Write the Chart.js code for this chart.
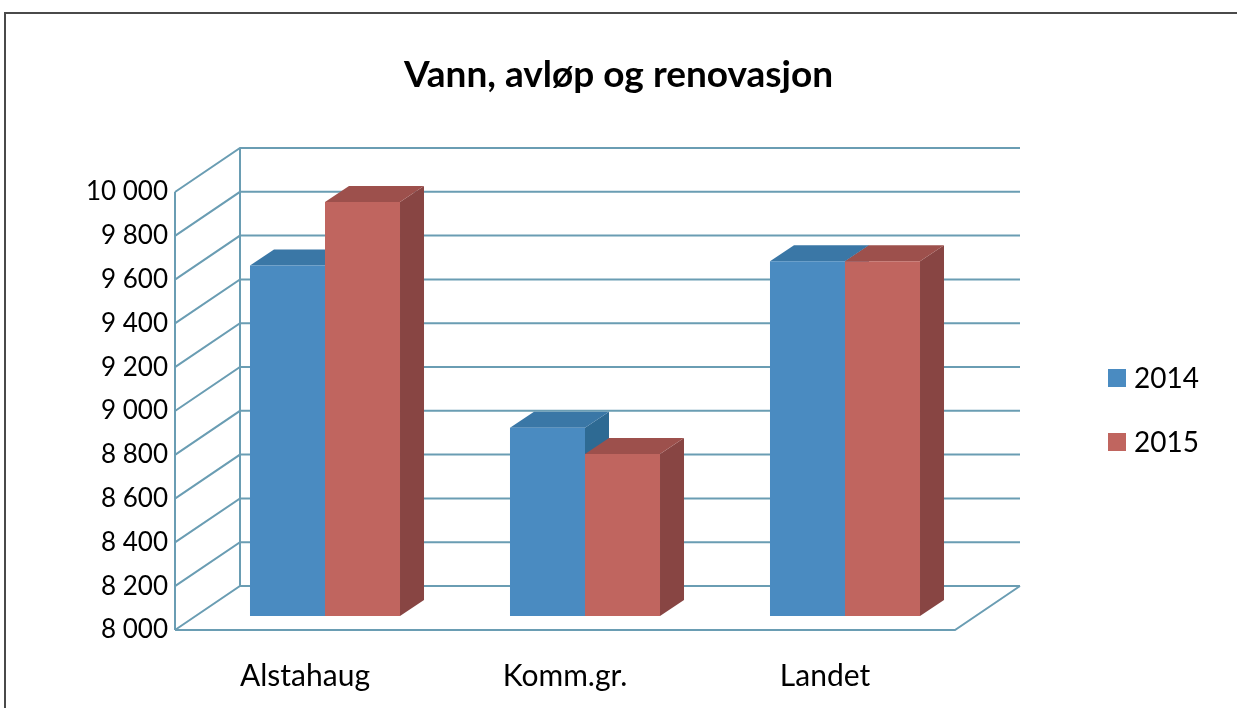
<!DOCTYPE html>
<html lang="no">
<head>
    <meta charset="UTF-8">
    <title>Vann, avløp og renovasjon</title>
    <script src="https://cdn.jsdelivr.net/npm/chart.js"></script>
    <style>
        body { margin: 0; background: #fff; }
        #frame {
            position: absolute; left: 4px; top: 12px; width: 1300px; height: 800px;
            border-top: 2px solid #4a4a4a; border-left: 2px solid #4a4a4a;
        }
        #chart { position: absolute; left: 0; top: 0; }
    </style>
</head>
<body>
    <div id="frame"></div>
    <canvas id="chart" width="1237" height="708"></canvas>

    <script>
        // data
        const categories = ['Alstahaug', 'Komm.gr.', 'Landet'];
        const seriesNames = ['2014', '2015'];
        const values2014 = [9600, 8860, 9620];
        const values2015 = [9890, 8740, 9620];
        const yMin = 8000;
        const yMax = 10000;
        const yStep = 200;

        const frontColors = ['#4a8bc1', '#c0655f'];
        const topColors = ['#3a77a6', '#9d504c'];
        const sideColors = ['#2e6a93', '#884543'];
        const gridColor = '#6a9db3';
        const font = 'Lato';

        // depth of the floor/walls and of the bars
        const wallDx = 65, wallDy = -44;
        const barShiftX = 20, barShiftY = -14;
        const barDx = 24, barDy = -16;

        function fmt(v) {
            return String(v).replace(/\B(?=(\d{3})+(?!\d))/g, ' ');
        }

        function poly(ctx, pts, color) {
            ctx.beginPath();
            ctx.moveTo(pts[0][0], pts[0][1]);
            for (let i = 1; i < pts.length; i++) ctx.lineTo(pts[i][0], pts[i][1]);
            ctx.closePath();
            ctx.fillStyle = color;
            ctx.fill();
        }

        const threeD = {
            id: 'threeD',
            beforeDatasetsDraw(chart) {
                const ctx = chart.ctx;
                const a = chart.chartArea;
                const ys = chart.scales.y;

                // walls and floor
                ctx.save();
                ctx.strokeStyle = gridColor;
                ctx.lineWidth = 2;
                ctx.beginPath();
                for (let v = yMin; v <= yMax; v += yStep) {
                    const py = ys.getPixelForValue(v);
                    ctx.moveTo(a.left, py);
                    ctx.lineTo(a.left + wallDx, py + wallDy);
                    ctx.lineTo(a.right + wallDx, py + wallDy);
                }
                ctx.moveTo(a.left, a.bottom);
                ctx.lineTo(a.left, a.top);
                ctx.moveTo(a.left + wallDx, a.bottom + wallDy);
                ctx.lineTo(a.left + wallDx, a.top + wallDy);
                ctx.moveTo(a.left, a.bottom);
                ctx.lineTo(a.right, a.bottom);
                ctx.lineTo(a.right + wallDx, a.bottom + wallDy);
                ctx.stroke();
                ctx.restore();

                // bars sit a bit back from the front edge
                ctx.save();
                ctx.translate(barShiftX, barShiftY);
                const metas = chart.data.datasets.map((d, i) => chart.getDatasetMeta(i));
                for (let c = 0; c < categories.length; c++) {
                    metas.forEach((meta, di) => {
                        const bar = meta.data[c];
                        const p = bar.getProps(['x', 'y', 'base', 'width'], true);
                        const base = Math.min(p.base, a.bottom);
                        const l = p.x - p.width / 2, r = p.x + p.width / 2;
                        poly(ctx, [[r, p.y], [r + barDx, p.y + barDy], [r + barDx, base + barDy], [r, base]], sideColors[di]);
                        poly(ctx, [[l, p.y], [r, p.y], [r + barDx, p.y + barDy], [l + barDx, p.y + barDy]], topColors[di]);
                    });
                }
            },
            afterDatasetsDraw(chart) {
                chart.ctx.restore();
            },
            afterDraw(chart) {
                // legend on the right
                const ctx = chart.ctx;
                ctx.save();
                ctx.font = '28px ' + font;
                ctx.textBaseline = 'middle';
                seriesNames.forEach((name, i) => {
                    const cy = 378 + i * 64;
                    ctx.fillStyle = frontColors[i];
                    ctx.fillRect(1108, cy - 9, 18, 18);
                    ctx.fillStyle = '#000';
                    ctx.fillText(name, 1134, cy + 1);
                });
                ctx.restore();
            }
        };

        new Chart(document.getElementById('chart'), {
            type: 'bar',
            data: {
                labels: categories,
                datasets: [
                    { label: seriesNames[0], data: values2014, backgroundColor: frontColors[0], borderWidth: 0 },
                    { label: seriesNames[1], data: values2015, backgroundColor: frontColors[1], borderWidth: 0 }
                ]
            },
            options: {
                responsive: false,
                animation: false,
                categoryPercentage: 0.577,
                barPercentage: 1,
                layout: { padding: 0 },
                plugins: {
                    legend: { display: false },
                    tooltip: { enabled: false },
                    title: {
                        display: true,
                        text: 'Vann, avløp og renovasjon',
                        color: '#000',
                        font: { family: font, size: 37, weight: 'bold' },
                        padding: { top: 52.8, bottom: 94.8 }
                    }
                },
                scales: {
                    x: {
                        grid: { display: false },
                        border: { display: false },
                        ticks: { color: '#000', font: { family: font, size: 30 }, padding: 20 },
                        afterFit(s) { s.height = 78; }
                    },
                    y: {
                        min: yMin,
                        max: yMax,
                        grid: { display: false },
                        border: { display: false },
                        ticks: {
                            stepSize: yStep,
                            color: '#000',
                            font: { family: font, size: 26 },
                            padding: -1,
                            callback: v => fmt(v)
                        },
                        afterFit(s) { s.width = 175; }
                    },
                    y2: {
                        position: 'right',
                        min: yMin,
                        max: yMax,
                        grid: { display: false },
                        border: { display: false },
                        ticks: { display: false },
                        afterFit(s) { s.width = 282; }
                    }
                }
            },
            plugins: [threeD]
        });
    </script>
</body>
</html>
